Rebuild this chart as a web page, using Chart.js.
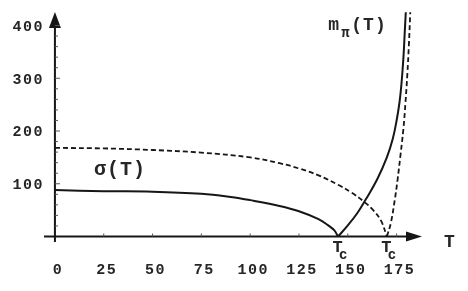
<!DOCTYPE html>
<html>
<head>
<meta charset="utf-8">
<script src="https://cdn.jsdelivr.net/npm/chart.js@4.4.0/dist/chart.umd.min.js"></script>
<style>
html,body{margin:0;padding:0;background:#fff;}
</style>
</head>
<body>
<canvas id="myChart" width="468" height="291"></canvas>
<script>
// ticks
const xTicks = [0, 25, 50, 75, 100, 125, 150, 175];
const yTicks = [100, 200, 300, 400];
const tcValues = [145, 170];

// sigma(T), solid and dashed
const sigmaT = [0, 25, 50, 75, 90, 100, 115, 125, 135, 140, 143, 145];
const sigma = [88, 86, 85, 81, 75, 69, 58, 48, 33, 21, 12, 0];
const sigmaDashT = [0, 25, 50, 75, 100, 115, 125, 135, 145, 152, 158, 163, 167, 170];
const sigmaDash = [168, 167, 164, 159, 150, 139, 129, 116, 98, 83, 67, 50, 30, 0];

// m_pi(T), solid and dashed
const mpiT = [145, 150, 155, 159, 165, 170, 173, 175, 176.5, 177.5, 178.5, 179.2, 179.7];
const mpi = [0, 21, 45, 69, 108, 150, 185, 220, 255, 290, 340, 390, 425];
const mpiDashT = [170, 172, 174, 175.5, 177, 178.5, 179.5, 180.5, 181.3, 182];
const mpiDash = [0, 25, 68, 108, 155, 205, 252, 308, 365, 425];

const ink = '#161616';
const textCol = '#262626';
const mono = "'Liberation Mono', 'DejaVu Sans Mono', monospace";

function pts(xs, ys) {
  return xs.map((x, i) => ({x: x, y: ys[i]}));
}

const axesPlugin = {
  id: 'axes',
  beforeDraw(chart) {
    chart.ctx.letterSpacing = '1.5px';
  },
  afterDatasetsDraw(chart) {
    const ctx = chart.ctx;
    const xs = chart.scales.x, ys = chart.scales.y;
    const a = chart.chartArea;
    const x0 = xs.getPixelForValue(0), y0 = ys.getPixelForValue(0);
    ctx.save();
    ctx.strokeStyle = ink;
    ctx.fillStyle = ink;
    ctx.lineWidth = 2;
    ctx.beginPath();
    ctx.moveTo(a.left, y0); ctx.lineTo(a.right - 10, y0);
    ctx.moveTo(x0, a.bottom); ctx.lineTo(x0, a.top + 10);
    ctx.stroke();
    // arrow heads
    ctx.beginPath();
    ctx.moveTo(a.right, y0);
    ctx.lineTo(a.right - 16, y0 - 5);
    ctx.lineTo(a.right - 16, y0 + 5);
    ctx.closePath();
    ctx.fill();
    ctx.beginPath();
    ctx.moveTo(x0, a.top);
    ctx.lineTo(x0 - 6, a.top + 16);
    ctx.lineTo(x0 + 6, a.top + 16);
    ctx.closePath();
    ctx.fill();
    // small ticks
    ctx.lineWidth = 1;
    ctx.strokeStyle = '#555';
    ctx.beginPath();
    for (let v = 20; v <= 400; v += 20) {
      const p = ys.getPixelForValue(v);
      ctx.moveTo(x0, p); ctx.lineTo(x0 + (v % 100 === 0 ? 5 : 3), p);
    }
    xTicks.forEach(v => {
      if (v === 0) return;
      const p = xs.getPixelForValue(v);
      ctx.moveTo(p, y0); ctx.lineTo(p, y0 - 3);
    });
    ctx.stroke();

    // texts
    ctx.fillStyle = textCol;
    ctx.textBaseline = 'middle';
    ctx.letterSpacing = '1px';
    ctx.textAlign = 'left';
    ctx.font = 'bold 20px ' + mono;
    ctx.fillText('\u03c3(T)', xs.getPixelForValue(20), ys.getPixelForValue(126));

    ctx.font = 'bold 18px ' + mono;
    const mx = xs.getPixelForValue(140), my = ys.getPixelForValue(400);
    ctx.fillText('m', mx, my);
    ctx.font = 'bold 14px ' + mono;
    ctx.fillText('\u03c0', mx + 13, my + 8);
    ctx.font = 'bold 18px ' + mono;
    ctx.fillText('(T)', mx + 23, my);

    tcValues.forEach(tc => {
      const p = xs.getPixelForValue(tc);
      ctx.font = 'bold 17px ' + mono;
      ctx.textAlign = 'center';
      ctx.fillText('T', p, y0 + 11);
      ctx.font = 'bold 14px ' + mono;
      ctx.textAlign = 'left';
      ctx.fillText('c', p + 1, y0 + 19);
    });

    ctx.font = 'bold 18px ' + mono;
    ctx.textAlign = 'center';
    ctx.fillText('T', 450, y0 + 6);
    ctx.restore();
  }
};

const ctx = document.getElementById('myChart').getContext('2d');
const chart = new Chart(ctx, {
  type: 'scatter',
  data: {
    datasets: [
      {label: 'sigma', data: pts(sigmaT, sigma), borderColor: ink, borderWidth: 2},
      {label: 'sigma dashed', data: pts(sigmaDashT, sigmaDash), borderColor: ink, borderWidth: 1.8, borderDash: [5, 3]},
      {label: 'm_pi', data: pts(mpiT, mpi), borderColor: ink, borderWidth: 2},
      {label: 'm_pi dashed', data: pts(mpiDashT, mpiDash), borderColor: ink, borderWidth: 1.8, borderDash: [5, 3]}
    ]
  },
  options: {
    responsive: false,
    animation: false,
    showLine: true,
    elements: {
      point: {radius: 0, hoverRadius: 0},
      line: {tension: 0.4, fill: false}
    },
    layout: {padding: {top: 12, right: 46, left: 0, bottom: 0}},
    plugins: {legend: {display: false}, tooltip: {enabled: false}},
    scales: {
      x: {
        type: 'linear', min: -5.6, max: 188,
        grid: {display: false, drawTicks: false},
        border: {display: false},
        afterBuildTicks: s => { s.ticks = xTicks.map(v => ({value: v})); },
        afterFit: s => { s.height = 49; },
        ticks: {color: textCol, padding: 19, labelOffset: 3, maxRotation: 0,
          font: {family: mono, size: 15, weight: 'bold'}}
      },
      y: {
        type: 'linear', min: -10.4, max: 425.6,
        grid: {display: false, drawTicks: false},
        border: {display: false},
        afterBuildTicks: s => { s.ticks = yTicks.map(v => ({value: v})); },
        afterFit: s => { s.width = 44; },
        ticks: {color: textCol, padding: 0, labelOffset: 1.5,
          font: {family: mono, size: 15, weight: 'bold'}}
      }
    }
  },
  plugins: [axesPlugin]
});
</script>
</body>
</html>
